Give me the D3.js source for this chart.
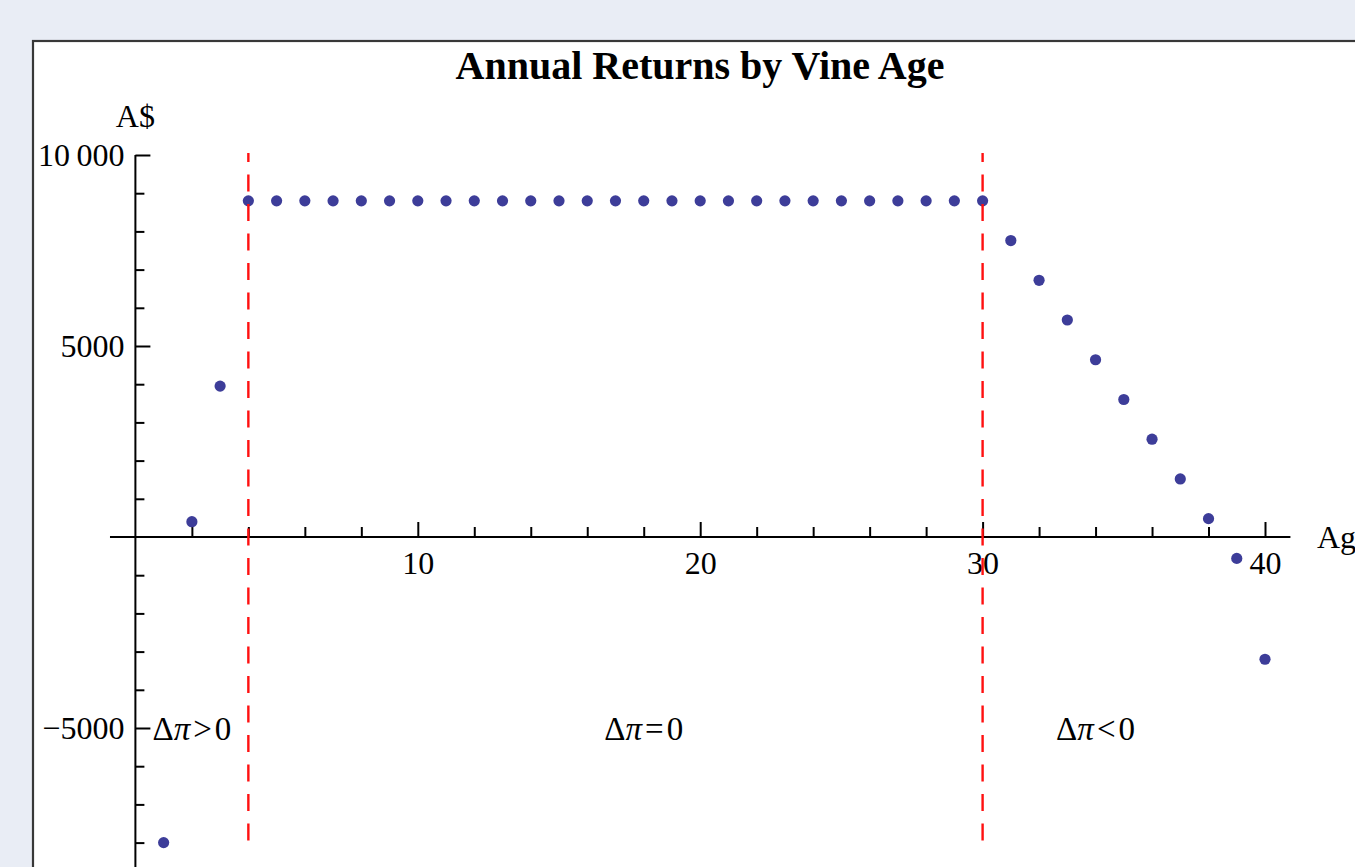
<!DOCTYPE html>
<html>
<head>
<meta charset="utf-8">
<script src="https://cdn.jsdelivr.net/npm/d3@7"></script>
<style>
  html, body { margin: 0; padding: 0; background: #e9edf5; overflow: hidden; }
  svg { display: block; }
  text { font-family: "Liberation Serif", "Times New Roman", serif; fill: #000; }
</style>
</head>
<body>
<svg id="chart" width="1355" height="867"></svg>
<script>
// Vine age (years) and annual return (A$) for each age
const ages = [1, 2, 3, 4, 5, 6, 7, 8, 9, 10, 11, 12, 13, 14, 15, 16, 17, 18, 19, 20,
              21, 22, 23, 24, 25, 26, 27, 28, 29, 30, 31, 32, 33, 34, 35, 36, 37, 38, 39, 40];
const returnsAUD = [-8000, 400, 3950,
                    8800, 8800, 8800, 8800, 8800, 8800, 8800, 8800, 8800, 8800,
                    8800, 8800, 8800, 8800, 8800, 8800, 8800, 8800, 8800, 8800,
                    8800, 8800, 8800, 8800, 8800, 8800, 8800,
                    7760, 6720, 5680, 4640, 3600, 2560, 1520, 480, -560, -3200];

// Axis ticks
const xMajorTicks = [10, 20, 30, 40];
const xMinorTicks = [2, 4, 6, 8, 12, 14, 16, 18, 22, 24, 26, 28, 32, 34, 36, 38];
const yMajorTicks = [-5000, 5000, 10000];
const yMajorLabels = ["\u22125000", "5000", "10\u2009000"];
const yMinorTicks = [-9000, -8000, -7000, -6000, -4000, -3000, -2000, -1000,
                     1000, 2000, 3000, 4000, 6000, 7000, 8000, 9000];

// Phase boundaries and region labels
const boundaries = [4, 30];
const regionLabels = [
  { age: 2,  value: -5000, op: ">" },
  { age: 18, value: -5000, op: "=" },
  { age: 34, value: -5000, op: "<" }
];

const titleText = "Annual Returns by Vine Age";
const xAxisTitle = "Age";
const yAxisTitle = "A$";

const svg = d3.select("#chart");

// Framed white panel (extends beyond the visible window)
svg.append("rect")
  .attr("x", 33).attr("y", 41)
  .attr("width", 1400).attr("height", 900)
  .attr("fill", "#ffffff")
  .attr("stroke", "#383838")
  .attr("stroke-width", 2.2);

const x = d3.scaleLinear().domain([0, 40]).range([135.4, 1265]);
const y = d3.scaleLinear().domain([0, 10000]).range([537, 155]);

const fontSize = 32;

// Title
svg.append("text")
  .attr("x", 700).attr("y", 79)
  .attr("text-anchor", "middle")
  .attr("font-weight", "bold")
  .attr("font-size", 40)
  .text(titleText);

// Axis lines
svg.append("line")
  .attr("x1", x(-0.9)).attr("x2", x(40.9))
  .attr("y1", y(0)).attr("y2", y(0))
  .attr("stroke", "#000").attr("stroke-width", 2);
svg.append("line")
  .attr("x1", x(0)).attr("x2", x(0))
  .attr("y1", y(10000)).attr("y2", y(-9500))
  .attr("stroke", "#000").attr("stroke-width", 2);

function styleAxis(g) {
  g.select(".domain").remove();
  g.selectAll(".tick line").attr("stroke", "#000").attr("stroke-width", 2);
  g.selectAll(".tick text")
    .attr("font-family", "Liberation Serif, Times New Roman, serif")
    .attr("font-size", fontSize)
    .attr("fill", "#000");
}

// X axis: ticks point up into the plot, labels below
svg.append("g")
  .attr("transform", `translate(0,${y(0)})`)
  .call(d3.axisBottom(x).tickValues(xMinorTicks).tickSizeInner(-10).tickSizeOuter(0).tickFormat(""))
  .call(styleAxis);
svg.append("g")
  .attr("transform", `translate(0,${y(0)})`)
  .call(d3.axisBottom(x).tickValues(xMajorTicks).tickSizeInner(-15).tickSizeOuter(0)
        .tickPadding(14).tickFormat(d3.format("d")))
  .call(styleAxis);

// Y axis: ticks point right into the plot, labels on the left
svg.append("g")
  .attr("transform", `translate(${x(0)},0)`)
  .call(d3.axisLeft(y).tickValues(yMinorTicks).tickSizeInner(-9).tickSizeOuter(0).tickFormat(""))
  .call(styleAxis);
svg.append("g")
  .attr("transform", `translate(${x(0)},0)`)
  .call(d3.axisLeft(y).tickValues(yMajorTicks).tickSizeInner(-15).tickSizeOuter(0)
        .tickPadding(11).tickFormat((d, i) => yMajorLabels[i]))
  .call(styleAxis);

// Axis titles
svg.append("text")
  .attr("x", x(0)).attr("y", 127)
  .attr("text-anchor", "middle")
  .attr("font-size", fontSize)
  .text(yAxisTitle);
svg.append("text")
  .attr("x", 1317).attr("y", y(0) + 11)
  .attr("font-size", fontSize)
  .text(xAxisTitle);

// Data points
svg.append("g")
  .selectAll("circle")
  .data(ages.map((a, i) => ({ age: a, value: returnsAUD[i] })))
  .join("circle")
  .attr("cx", d => x(d.age))
  .attr("cy", d => y(d.value))
  .attr("r", 5.6)
  .attr("fill", "#3d3d99");

// Phase boundaries
svg.append("g")
  .selectAll("line")
  .data(boundaries)
  .join("line")
  .attr("x1", d => x(d)).attr("x2", d => x(d))
  .attr("y1", y(10050)).attr("y2", y(-8060))
  .attr("stroke", "#ff1010")
  .attr("stroke-width", 2.4)
  .attr("stroke-dasharray", "17,12.5")
  .attr("stroke-dashoffset", 8);

// Region labels: Δπ >, =, < 0
const lbl = svg.append("g")
  .selectAll("text")
  .data(regionLabels)
  .join("text")
  .attr("x", d => x(d.age))
  .attr("y", d => y(d.value) + 12)
  .attr("text-anchor", "middle")
  .attr("font-size", 33);
lbl.append("tspan").text("\u0394");
lbl.append("tspan").attr("font-style", "italic").text("\u03c0");
lbl.append("tspan").attr("dx", 3).text(d => d.op);
lbl.append("tspan").attr("dx", 3).text("0");
</script>
</body>
</html>
